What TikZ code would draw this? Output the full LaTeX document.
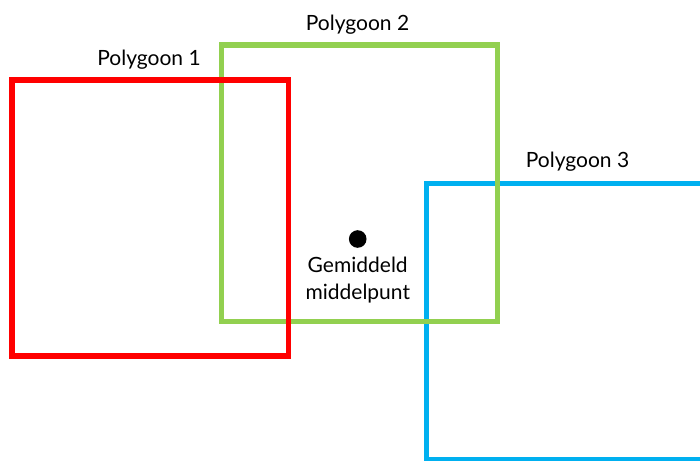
\documentclass[tikz,border=0pt]{standalone}
\usepackage{fontspec}
\setmainfont{Lato}
\definecolor{pred}{HTML}{FF0000}
\definecolor{pgreen}{HTML}{92D050}
\definecolor{pblue}{HTML}{00B0F0}
\begin{document}
\begin{tikzpicture}[x=1pt,y=-1pt,
  poly/.style={line width=5.5pt},
  lbl/.style={anchor=base,inner sep=0pt,font=\fontsize{21}{25}\selectfont}]
\useasboundingbox (0,0) rectangle (700,460);
\clip (0,0) rectangle (700,460);
\draw[poly,pblue] (426.7,183.7) rectangle (720,459.5);
\draw[poly,pgreen] (221.5,45) rectangle (497.7,321.5);
\draw[poly,pred] (12,80) rectangle (288.5,356);
\node[lbl] (l1) at (149,65) {Polygoon 1};
\node[lbl] (l2) at (357.5,30.7) {Polygoon 2};
\node[lbl] (l3) at (577.5,167.7) {Polygoon 3};
\fill (357.7,239) circle (8.8) coordinate (c);
\node[lbl] (g1) at (357.7,272) {Gemiddeld};
\node[lbl] (g2) at (357.8,299) {middelpunt};
\end{tikzpicture}
\end{document}
